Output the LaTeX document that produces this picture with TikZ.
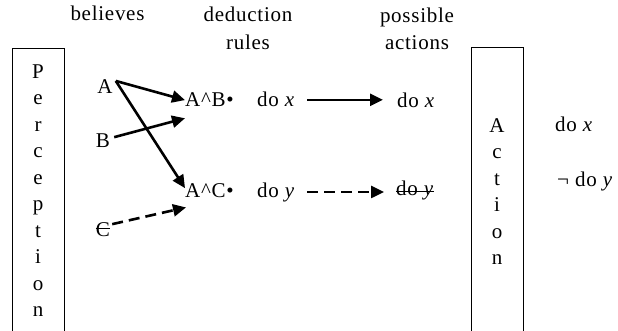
\documentclass[tikz,border=0pt]{standalone}
\usepackage{fontspec}
\setmainfont[LetterSpace=3.5]{Liberation Serif}
\newsavebox\strkbox
\newcommand\mystrike[2][5pt]{\sbox\strkbox{#2}\rlap{\rule[#1]{\wd\strkbox}{1pt}}\usebox\strkbox}
\usetikzlibrary{arrows.meta}
\begin{document}
\begin{tikzpicture}[x=1pt,y=-1pt,
  every node/.style={inner sep=0pt, font=\fontsize{21}{26.5}\selectfont},
  lbl/.style={anchor=base west},
  hdr/.style={anchor=north, align=center, font=\fontsize{21}{27.5}\selectfont},
  vbox/.style={draw, line width=0.8pt, anchor=north west, minimum width=52pt, minimum height=300pt},
  vtext/.style={anchor=north, align=center},
  arr/.style={line width=2.6pt, -{Triangle[length=13pt,width=12pt]}},
  darr/.style={arr, dash pattern=on 11pt off 6pt}]
\useasboundingbox (0,0) rectangle (618,331);

% headers
\node[anchor=base] (hbel) at (107.5,21) {believes};
\node[hdr] (hded) at (248,7.2) {deduction\\rules};
\node[hdr] (hpos) at (417,7.7) {possible\\actions};

% boxes
\node[vbox] (pbox) at (12,48) {};
\node[vtext] (ptext) at (38,64.5) {P\\e\\r\\c\\e\\p\\t\\i\\o\\n};
\node[vbox] (abox) at (471,47) {};
\node[vtext] (atext) at (497,118.3) {A\\c\\t\\i\\o\\n};

% believes
\node[anchor=base] (a) at (105,94) {A};
\node[anchor=base] (b) at (103,148) {B};
\node[anchor=base] (c) at (103,236) {\mystrike[7.4pt]{C}};

% deduction rules
\node[lbl] (ab) at (185,107) {A\textasciicircum B•};
\node[lbl] (ac) at (185,197) {A\textasciicircum C•};
\node[lbl] (doxl) at (257,107) {do \textit{x}};
\node[lbl] (doyl) at (257,197) {do \textit{y}};

% possible actions
\node[lbl] (doxr) at (397,108) {do \textit{x}};
\node[lbl] (doyr) at (396,196) {\mystrike[4.3pt]{do \textit{y}}};

% action outputs
\node[lbl] (outx) at (555,132) {do \textit{x}};
\node[lbl] (outy) at (557,187) {¬ do \textit{y}};

% connectors
\draw[arr] ([xshift=3pt,yshift=-1pt]a.north east) -- (ab.west);
\draw[arr] ([xshift=4pt,yshift=4pt]b.east) -- ([yshift=-11pt]ab.south west);
\draw[arr] ([xshift=3pt,yshift=-1pt]a.north east) -- ([yshift=2pt]ac.west);
\draw[darr] ([xshift=2pt,yshift=5pt]c.east) -- ([xshift=1pt,yshift=-10pt]ac.south west);
\draw[arr, shorten <=12pt, shorten >=14pt] (doxl.east) -- (doxr.west |- doxl.east);
\draw[darr, shorten <=12pt, shorten >=12pt] (doyl.east) -- (doyr.west |- doyl.east);
\end{tikzpicture}
\end{document}
